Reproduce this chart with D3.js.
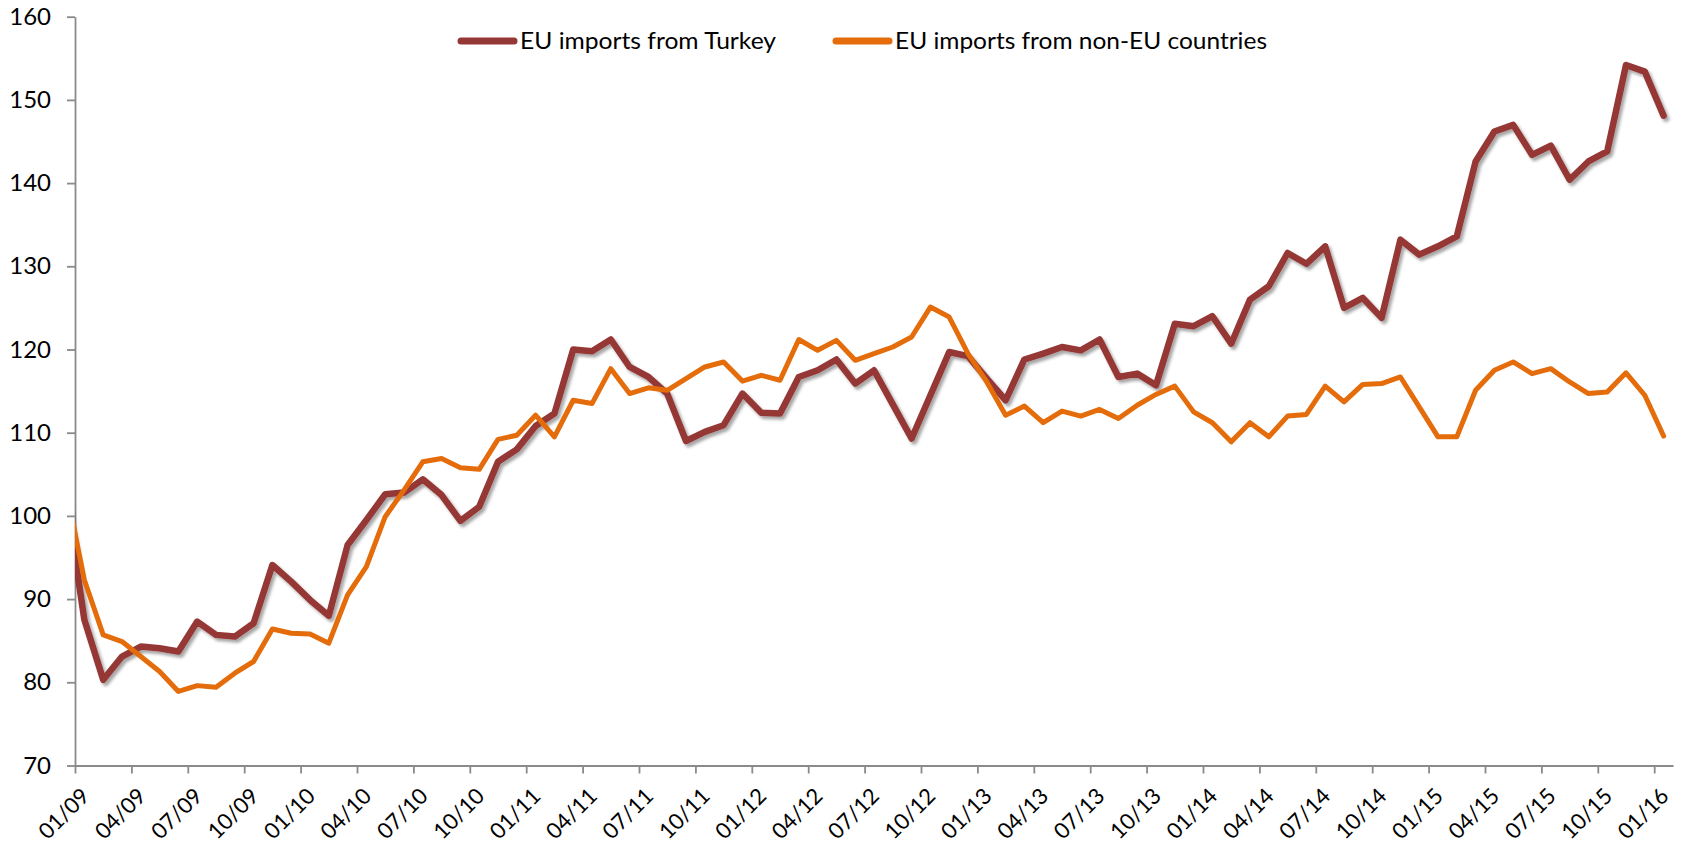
<!DOCTYPE html>
<html>
<head>
<meta charset="utf-8">
<script src="https://cdn.jsdelivr.net/npm/d3@7"></script>
<style>
  body { margin: 0; background: #fff; }
  text { font-family: Lato, "Open Sans", sans-serif; fill: #000; }
</style>
</head>
<body>
<div id="chart"></div>
<script>
// monthly index values, 12/08 .. 01/16
// (the 12/08 value lies left of the y axis and only shows as the clipped line start)
var turkey = [
  102.7, 87.5, 80.3, 83.1, 84.3, 84.1, 83.7, 87.3, 85.7, 85.5, 87.1, 94.1, 92.1, 89.9, 88.0,
  96.5, 99.5, 102.6, 102.8, 104.4, 102.5, 99.4, 101.1, 106.5, 108.0, 110.8, 112.3,
  120.0, 119.8, 121.2, 117.9, 116.7, 114.7, 109.0, 110.1, 110.9, 114.7, 112.4, 112.3,
  116.7, 117.5, 118.8, 115.9, 117.5, 113.4, 109.3, 114.5, 119.7, 119.2, 116.5, 113.9,
  118.8, 119.5, 120.3, 119.9, 121.2, 116.7, 117.1, 115.7, 123.1, 122.8, 124.0, 120.7,
  126.0, 127.6, 131.6, 130.3, 132.4, 125.0, 126.2, 123.8, 133.2, 131.4, 132.4, 133.6,
  142.6, 146.2, 147.0, 143.4, 144.5, 140.4, 142.6, 143.8, 154.2, 153.4, 148.1
];
var nonEU = [
  103.6, 92.3, 85.7, 84.9, 83.1, 81.3, 78.9, 79.6, 79.4, 81.1, 82.5, 86.4, 85.9, 85.8, 84.7,
  90.5, 93.9, 99.9, 103.1, 106.5, 106.9, 105.8, 105.6, 109.2, 109.7, 112.1, 109.5,
  113.9, 113.5, 117.7, 114.7, 115.4, 115.1, 116.5, 117.9, 118.5, 116.2, 116.9, 116.3,
  121.2, 119.9, 121.1, 118.7, 119.5, 120.3, 121.5, 125.1, 123.9, 119.5, 116.1, 112.1,
  113.2, 111.2, 112.6, 112.0, 112.8, 111.7, 113.3, 114.6, 115.6, 112.5, 111.2, 108.9,
  111.2, 109.5, 112.0, 112.2, 115.6, 113.7, 115.8, 115.9, 116.7, 113.1, 109.5, 109.5,
  115.1, 117.5, 118.5, 117.1, 117.7, 116.1, 114.7, 114.9, 117.2, 114.5, 109.6
];
var tickLabels = [
  "01/09", "04/09", "07/09", "10/09", "01/10", "04/10", "07/10", "10/10",
  "01/11", "04/11", "07/11", "10/11", "01/12", "04/12", "07/12", "10/12",
  "01/13", "04/13", "07/13", "10/13", "01/14", "04/14", "07/14", "10/14",
  "01/15", "04/15", "07/15", "10/15", "01/16"
];
var yTicks = [70, 80, 90, 100, 110, 120, 130, 140, 150, 160];
var seriesNames = ["EU imports from Turkey", "EU imports from non-EU countries"];
var seriesColors = ["#953735", "#e46c0a"];

var svgWidth = 1684, svgHeight = 846;
var margin = { top: 16.7, right: 11, bottom: 80.5, left: 75 };
var width = svgWidth - margin.left - margin.right;
var height = svgHeight - margin.top - margin.bottom;

var svg = d3.select("#chart").append("svg")
  .attr("width", svgWidth)
  .attr("height", svgHeight);

var defs = svg.append("defs");
defs.append("filter")
  .attr("id", "shadow")
  .attr("x", "-5%").attr("y", "-5%")
  .attr("width", "110%").attr("height", "110%")
  .append("feDropShadow")
  .attr("dx", 2.5).attr("dy", 3)
  .attr("stdDeviation", 1.6)
  .attr("flood-color", "#000")
  .attr("flood-opacity", 0.35);

defs.append("clipPath").attr("id", "plotClip")
  .append("rect")
  .attr("x", 0).attr("y", -margin.top)
  .attr("width", width + margin.right)
  .attr("height", svgHeight);

var chartGroup = svg.append("g")
  .attr("transform", `translate(${margin.left}, ${margin.top})`);

// one band per month, 01/09 .. 01/16 -> 85 bands; values sit in the band centres
var nMonths = tickLabels.length * 3 - 2;
var xScale = d3.scaleLinear().domain([0, nMonths]).range([0, width]);
var yScale = d3.scaleLinear().domain([70, 160]).range([height, 0]);

// axes
var leftAxis = d3.axisLeft(yScale)
  .tickValues(yTicks)
  .tickSize(8)
  .tickSizeOuter(0)
  .tickPadding(16);

var yAxis = chartGroup.append("g").call(leftAxis);
yAxis.selectAll("text")
  .style("font-size", "24px")
  .style("font-family", "Lato, 'Open Sans', sans-serif");

var bottomAxis = d3.axisBottom(xScale)
  .tickValues(tickLabels.map((d, i) => i * 3))
  .tickSize(8)
  .tickSizeOuter(0)
  .tickFormat("");

var xAxis = chartGroup.append("g")
  .attr("transform", `translate(0, ${height})`)
  .call(bottomAxis);

chartGroup.selectAll(".domain, .tick line")
  .attr("stroke", "#8a8a8a")
  .attr("stroke-width", 1.8);

xAxis.selectAll(".xlabel")
  .data(tickLabels)
  .enter()
  .append("text")
  .attr("class", "xlabel")
  .attr("transform", (d, i) => `translate(${xScale(i * 3) + 5}, 21) rotate(-45)`)
  .attr("dy", "0.7em")
  .attr("text-anchor", "end")
  .style("font-size", "22px")
  .style("font-family", "Lato, 'Open Sans', sans-serif")
  .attr("fill", "#000")
  .text(d => d);

// lines
var line = d3.line()
  .x((d, i) => xScale(i - 0.5))
  .y(d => yScale(d));

var linesGroup = chartGroup.append("g").attr("clip-path", "url(#plotClip)");

linesGroup.append("path")
  .datum(turkey)
  .attr("d", line)
  .attr("fill", "none")
  .attr("stroke", seriesColors[0])
  .attr("stroke-width", 6.5)
  .attr("stroke-linejoin", "round")
  .attr("stroke-linecap", "round")
  .attr("filter", "url(#shadow)");

linesGroup.append("path")
  .datum(nonEU)
  .attr("d", line)
  .attr("fill", "none")
  .attr("stroke", seriesColors[1])
  .attr("stroke-width", 5)
  .attr("stroke-linejoin", "round")
  .attr("stroke-linecap", "round");

// legend
var legendX = [461, 836];
var legendTextLen = [256, 372];
var legend = svg.append("g");
seriesNames.forEach(function(name, i) {
  legend.append("line")
    .attr("x1", legendX[i]).attr("x2", legendX[i] + 53)
    .attr("y1", 41).attr("y2", 41)
    .attr("stroke", seriesColors[i])
    .attr("stroke-width", 7)
    .attr("stroke-linecap", "round");
  legend.append("text")
    .attr("x", legendX[i] + 59)
    .attr("y", 49)
    .attr("textLength", legendTextLen[i])
    .attr("lengthAdjust", "spacingAndGlyphs")
    .style("font-size", "23px")
    .text(name);
});
</script>
</body>
</html>
